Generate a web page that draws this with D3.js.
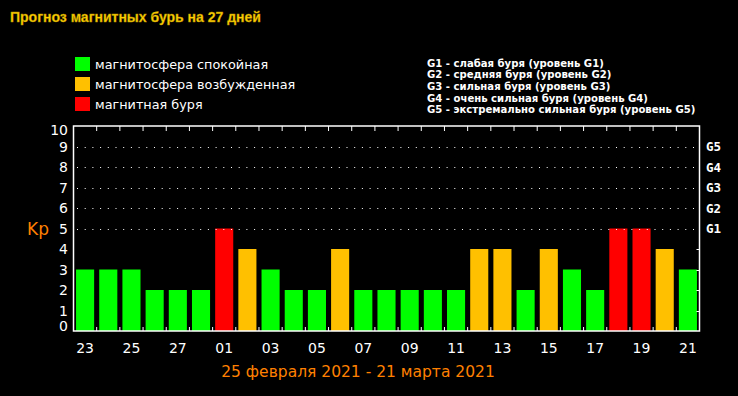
<!DOCTYPE html>
<html>
<head>
<meta charset="utf-8">
<script src="https://cdn.jsdelivr.net/npm/d3@7"></script>
<style>
  html, body { margin: 0; padding: 0; background: #000; }
  svg { display: block; }
</style>
</head>
<body>
<div id="chart"></div>
<script>
// forecast data, 23 Feb - 21 Mar 2021
const days = ["23","24","25","26","27","28","01","02","03","04","05","06","07","08","09",
              "10","11","12","13","14","15","16","17","18","19","20","21"];
const kpValues = [3,3,3,2,2,2,5,4,3,2,2,4,2,2,2,2,2,4,4,2,4,3,2,5,5,4,3];
const yTicks = [0,1,2,3,4,5,6,7,8,9,10];
const gLevels = ["G1","G2","G3","G4","G5"];
const gLevelKp = [5,6,7,8,9];
const legendItems = ["магнитосфера спокойная", "магнитосфера возбужденная", "магнитная буря"];
const gLegend = [
    "G1 - слабая буря (уровень G1)",
    "G2 - средняя буря (уровень G2)",
    "G3 - сильная буря (уровень G3)",
    "G4 - очень сильная буря (уровень G4)",
    "G5 - экстремально сильная буря (уровень G5)"
];

const colors = ["#00ff00", "#ffc000", "#ff0000"];
function kpColor(v) {
    if (v >= 5) return colors[2];
    if (v == 4) return colors[1];
    return colors[0];
}

const width = 738, height = 396;
const svg = d3.select("#chart").append("svg")
    .attr("width", width)
    .attr("height", height)
    .style("background", "#000");

let frame = {left: 73.5, right: 699.5, top: 126, bottom: 331};

let x = d3.scaleBand()
    .domain(d3.range(days.length))
    .range([frame.left, frame.right])
    .paddingInner(0.22)
    .paddingOuter(0.11);

let y = d3.scaleLinear().domain([0, 10]).range([frame.bottom, frame.top]);

// title
svg.append("text")
    .attr("x", 10).attr("y", 22)
    .attr("font-family", "Liberation Sans, Arial, sans-serif")
    .attr("font-weight", "bold")
    .attr("font-size", 14)
    .attr("fill", "#ffd200")
    .attr("stroke", "#b08a00")
    .attr("stroke-width", 0.4)
    .text("Прогноз магнитных бурь на 27 дней");

// color legend
let legend = svg.append("g");
legendItems.forEach((t, i) => {
    legend.append("rect")
        .attr("x", 75).attr("y", 57 + i * 20)
        .attr("width", 15).attr("height", 14)
        .attr("fill", colors[i]);
    legend.append("text")
        .attr("x", 95).attr("y", 68.5 + i * 20)
        .attr("font-family", "DejaVu Sans, sans-serif")
        .attr("font-size", 12.8)
        .attr("fill", "#fff")
        .text(t);
});

// G levels legend
gLegend.forEach((t, i) => {
    svg.append("text")
        .attr("x", 427).attr("y", 66.5 + i * 11.7)
        .attr("font-family", "DejaVu Sans, sans-serif")
        .attr("font-weight", "bold")
        .attr("font-size", 10.1)
        .attr("fill", "#fff")
        .text(t);
});

// bars
svg.append("g").selectAll("rect")
    .data(kpValues)
    .enter().append("rect")
    .attr("x", (d, i) => x(i))
    .attr("y", d => y(d))
    .attr("width", x.bandwidth())
    .attr("height", d => y(0) - y(d))
    .attr("fill", d => kpColor(d));

// dotted grid for storm levels
svg.append("g").selectAll("line")
    .data(gLevelKp)
    .enter().append("line")
    .attr("x1", frame.left + 3.5).attr("x2", frame.right)
    .attr("y1", d => Math.round(y(d)) + 0.5).attr("y2", d => Math.round(y(d)) + 0.5)
    .attr("stroke", "#fff")
    .attr("stroke-width", 1)
    .attr("stroke-dasharray", "1,6.7");

// frame
svg.append("rect")
    .attr("x", frame.left).attr("y", frame.top)
    .attr("width", frame.right - frame.left)
    .attr("height", frame.bottom - frame.top)
    .attr("fill", "none")
    .attr("stroke", "#fff")
    .attr("stroke-width", 1.5);

// ticks between bars, top and bottom
let gap = x.step() * x.paddingInner() / 2;
let tickX = d3.range(1, days.length).map(i => x(i) - gap);
svg.append("g").selectAll("line")
    .data(tickX)
    .enter().append("line")
    .attr("x1", d => d).attr("x2", d => d)
    .attr("y1", frame.top).attr("y2", frame.top + 5)
    .attr("stroke", "#fff").attr("stroke-width", 1);
svg.append("g").selectAll("line")
    .data(tickX)
    .enter().append("line")
    .attr("x1", d => d).attr("x2", d => d)
    .attr("y1", frame.bottom).attr("y2", frame.bottom - 4)
    .attr("stroke", "#fff").attr("stroke-width", 1);

// right-side ticks for lower levels
svg.append("g").selectAll("line")
    .data([1,2,3,4])
    .enter().append("line")
    .attr("x1", frame.right).attr("x2", frame.right - 3)
    .attr("y1", d => Math.round(y(d)) + 0.5).attr("y2", d => Math.round(y(d)) + 0.5)
    .attr("stroke", "#fff").attr("stroke-width", 1);

// y labels (left)
svg.append("g").selectAll("text")
    .data(yTicks)
    .enter().append("text")
    .attr("x", 68)
    .attr("y", d => Math.min(Math.max(y(d), frame.top + 4), frame.bottom - 5))
    .attr("dy", "0.36em")
    .attr("text-anchor", "end")
    .attr("font-family", "DejaVu Sans, sans-serif")
    .attr("font-size", 14)
    .attr("fill", "#fff")
    .text(d => d);

// G labels (right)
svg.append("g").selectAll("text")
    .data(gLevels)
    .enter().append("text")
    .attr("x", 706)
    .attr("y", (d, i) => y(gLevelKp[i]))
    .attr("dy", "0.38em")
    .attr("font-family", "DejaVu Sans Mono, monospace")
    .attr("font-weight", "bold")
    .attr("font-size", 12.5)
    .attr("fill", "#fff")
    .text(d => d);

// Kp axis title
svg.append("text")
    .attr("x", 27).attr("y", 235)
    .attr("font-family", "DejaVu Sans, sans-serif")
    .attr("font-size", 17)
    .attr("fill", "#ff8000")
    .text("Kp");

// date labels, every other day
svg.append("g").selectAll("text")
    .data(days)
    .enter().filter((d, i) => i % 2 == 0).append("text")
    .attr("x", (d, i) => x(i * 2) + x.bandwidth() / 2)
    .attr("y", 353)
    .attr("text-anchor", "middle")
    .attr("font-family", "DejaVu Sans, sans-serif")
    .attr("font-size", 14)
    .attr("fill", "#fff")
    .text(d => d);

// period subtitle
svg.append("text")
    .attr("x", 358).attr("y", 377)
    .attr("text-anchor", "middle")
    .attr("font-family", "DejaVu Sans, sans-serif")
    .attr("font-size", 15.5)
    .attr("fill", "#ff8000")
    .text("25 февраля 2021 - 21 марта 2021");
</script>
</body>
</html>
